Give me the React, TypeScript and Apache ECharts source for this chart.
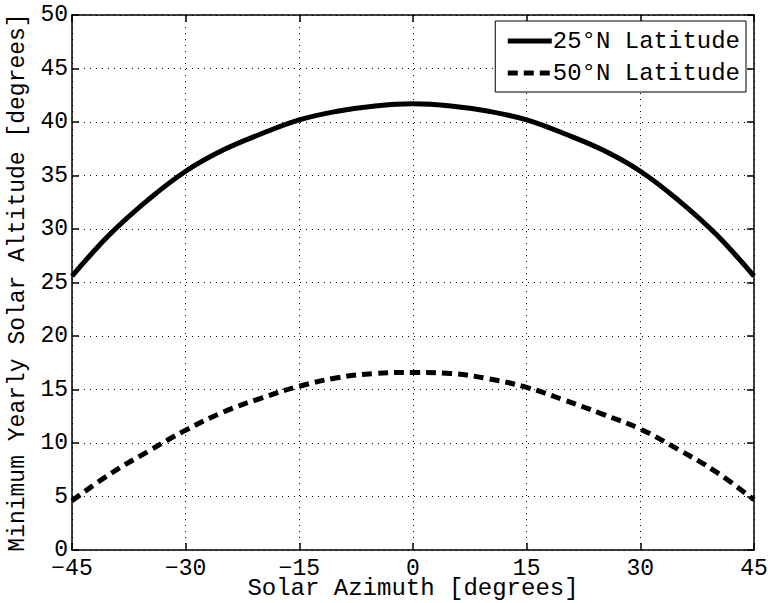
import React, { useEffect, useRef } from "react";
import * as echarts from "echarts";

const azimuth = [-45, -40, -35, -30, -25, -20, -15, -10, -5, 0, 5, 10, 15, 20, 25, 30, 35, 40, 45];
const lat25 = [25.6, 29.5, 32.7, 35.4, 37.4, 38.9, 40.2, 41.0, 41.5, 41.7, 41.5, 41.0, 40.2, 38.9, 37.4, 35.4, 32.7, 29.5, 25.6];
const lat50 = [4.6, 7.1, 9.2, 11.2, 12.9, 14.2, 15.3, 16.1, 16.5, 16.6, 16.5, 16.0, 15.2, 14.0, 12.7, 11.3, 9.4, 7.3, 4.7];
const seriesNames = ["25°N Latitude", "50°N Latitude"];
const xTitle = "Solar Azimuth [degrees]";
const yTitle = "Minimum Yearly Solar Altitude [degrees]";

const FONT = "'Liberation Mono', 'DejaVu Sans Mono', monospace";

export default function App() {
  const ref = useRef<HTMLDivElement>(null);
  useEffect(() => {
    if (!ref.current) return;
    const chart = echarts.init(ref.current, undefined, { renderer: "svg" });
    const pair = (ys: number[]) => azimuth.map((x, i) => [x, ys[i]]);
    const gridLine = { show: true, lineStyle: { color: "#000", type: [1, 5], width: 1 } };
    const textBase = { color: "#000", fontFamily: FONT, fontSize: 23 };
    const fmt = (v: number) => String(v).replace("-", "\u2212");
    const solid = { color: "#000", width: 5, type: "solid" as const };
    const dashed = { color: "#000", width: 5, type: [10, 6] };
    chart.setOption({
      animation: false,
      backgroundColor: "#fff",
      grid: { left: 72, right: 14, top: 15, bottom: 53, containLabel: false, outerBoundsMode: "none" },
      legend: {
        orient: "vertical",
        right: 22,
        top: 21,
        backgroundColor: "#fff",
        borderColor: "#000",
        borderWidth: 1,
        borderRadius: 0,
        padding: [8, 6, 7, 10],
        itemGap: 8,
        itemWidth: 44,
        itemHeight: 20,
        itemStyle: { opacity: 0 },
        textStyle: { ...textBase, fontSize: 24, padding: [0, 0, 0, -4] },
        data: [
          { name: seriesNames[0], lineStyle: solid },
          { name: seriesNames[1], lineStyle: dashed },
        ],
      },
      xAxis: [
        {
          type: "value",
          min: -45,
          max: 45,
          interval: 15,
          position: "bottom",
          name: xTitle,
          nameLocation: "middle",
          nameGap: 29,
          nameMoveOverlap: false,
          nameTextStyle: { ...textBase, fontSize: 24, verticalAlign: "top", lineHeight: 18 },
          axisLine: { show: true, onZero: false, lineStyle: { color: "#000", width: 1.5 } },
          axisTick: { show: true, inside: true, length: 7, lineStyle: { color: "#000", width: 1.5 } },
          axisLabel: { ...textBase, lineHeight: 18, margin: 10, formatter: fmt },
          splitLine: gridLine,
        },
        {
          type: "value",
          min: -45,
          max: 45,
          interval: 15,
          position: "top",
          axisLine: { show: true, onZero: false, lineStyle: { color: "#000", width: 1.5 } },
          axisTick: { show: true, inside: true, length: 7, lineStyle: { color: "#000", width: 1.5 } },
          axisLabel: { show: false },
          splitLine: { show: false },
        },
      ],
      yAxis: [
        {
          type: "value",
          min: 0,
          max: 50,
          interval: 5,
          position: "left",
          name: yTitle,
          nameLocation: "middle",
          nameGap: 43,
          nameRotate: 90,
          nameMoveOverlap: false,
          nameTextStyle: { ...textBase, fontSize: 23, verticalAlign: "bottom" },
          axisLine: { show: true, onZero: false, lineStyle: { color: "#000", width: 1.5 } },
          axisTick: { show: true, inside: true, length: 7, lineStyle: { color: "#000", width: 1.5 } },
          axisLabel: { ...textBase, lineHeight: 18, margin: 4 },
          splitLine: gridLine,
        },
        {
          type: "value",
          min: 0,
          max: 50,
          interval: 5,
          position: "right",
          axisLine: { show: true, onZero: false, lineStyle: { color: "#000", width: 1.5 } },
          axisTick: { show: true, inside: true, length: 7, lineStyle: { color: "#000", width: 1.5 } },
          axisLabel: { show: false },
          splitLine: { show: false },
        },
      ],
      series: [
        {
          name: seriesNames[0],
          type: "line",
          data: pair(lat25),
          smooth: 0.4,
          symbol: "none",
          lineStyle: solid,
          itemStyle: { color: "#000" },
        },
        {
          name: seriesNames[1],
          type: "line",
          data: pair(lat50),
          smooth: 0.4,
          symbol: "none",
          lineStyle: dashed,
          itemStyle: { color: "#000" },
        },
      ],
    });
    return () => chart.dispose();
  }, []);
  return <div ref={ref} style={{ width: 768, height: 603, position: "absolute", left: 0, top: 0 }} />;
}
